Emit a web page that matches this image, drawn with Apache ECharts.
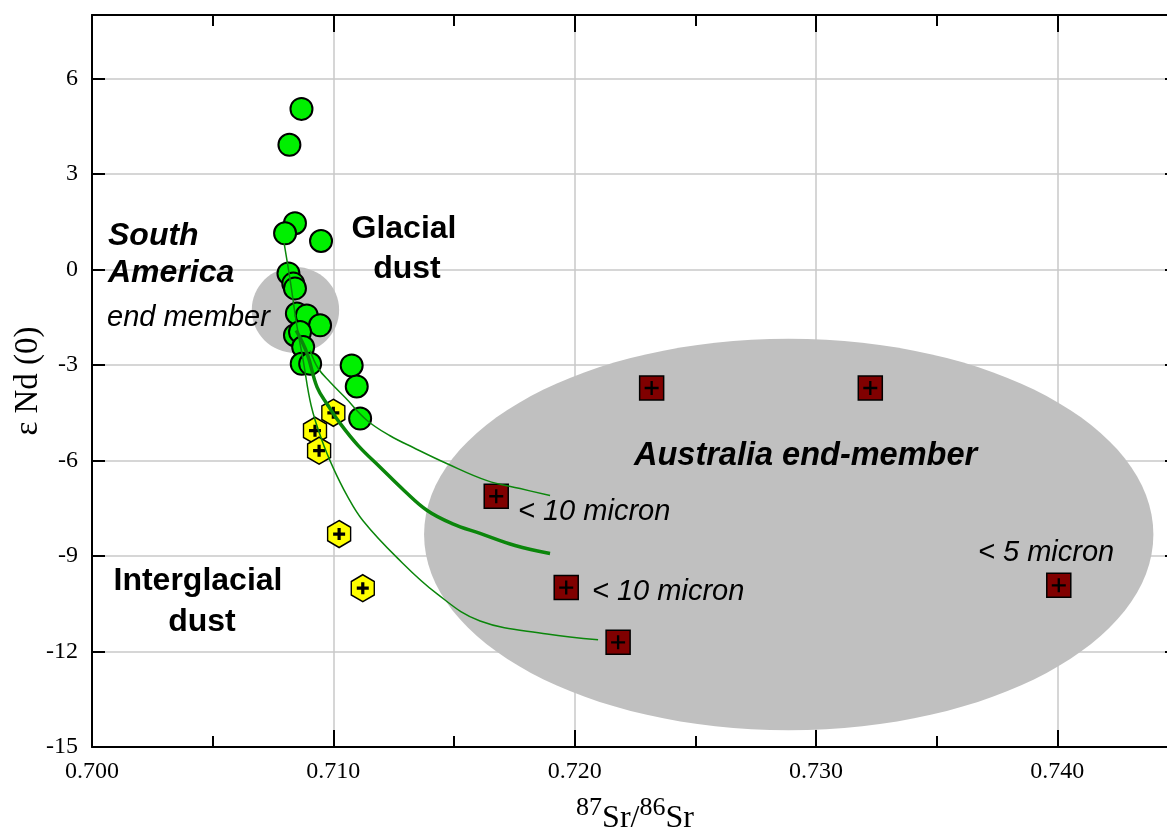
<!DOCTYPE html>
<html>
<head>
<meta charset="utf-8">
<script src="https://cdn.jsdelivr.net/npm/echarts@6/dist/echarts.min.js"></script>
<style>
html,body{margin:0;padding:0;background:#fff;}
#chart{width:1167px;height:833px;}
</style>
</head>
<body>
<div id="chart"></div>
<script>
// ---- Data ----
// Glacial dust (green circles)
const glacialSr = [0.70868, 0.70818, 0.70841, 0.70800, 0.70949, 0.70814, 0.70834, 0.70841, 0.70849, 0.70890, 0.70945, 0.70841, 0.70862, 0.70875, 0.70869, 0.70904, 0.71076, 0.71097, 0.71111];
const glacialNd = [5.05, 3.92, 1.46, 1.14, 0.90, -0.12, -0.44, -0.59, -1.38, -1.44, -1.75, -2.06, -1.96, -2.43, -2.96, -2.96, -3.01, -3.67, -4.68];
// Interglacial dust (yellow hexagons)
const interSr = [0.71000, 0.70924, 0.70941, 0.71024, 0.71122];
const interNd = [-4.50, -5.06, -5.69, -8.31, -10.01];
// Australian samples (dark red squares)
const ausSr = [0.72319, 0.73225, 0.71675, 0.71965, 0.72180, 0.74006];
const ausNd = [-3.72, -3.72, -7.12, -9.99, -11.71, -9.92];
// Mixing curves
const mixASr = [0.70796, 0.70821, 0.70850, 0.70875, 0.70908, 0.70953, 0.70999, 0.71057, 0.71123, 0.71264, 0.71430, 0.71608, 0.71886, 0.72097];
const mixANd = [0.83, -0.33, -1.81, -2.85, -4.27, -5.37, -6.22, -7.10, -7.89, -9.05, -10.19, -11.04, -11.45, -11.63];
const mixBSr = [0.70846, 0.70891, 0.70933, 0.70978, 0.71028, 0.71103, 0.71194, 0.71293, 0.71389, 0.71492, 0.71608, 0.71753, 0.71898];
const mixBNd = [-1.91, -2.63, -3.70, -4.27, -4.83, -5.53, -6.21, -6.94, -7.57, -7.98, -8.29, -8.67, -8.92];
const mixCSr = [0.70904, 0.70937, 0.70987, 0.71049, 0.71140, 0.71235, 0.71331, 0.71472, 0.71637, 0.71774, 0.71898];
const mixCNd = [-2.54, -3.10, -3.54, -4.02, -4.74, -5.22, -5.59, -6.10, -6.63, -6.88, -7.10];
// End-member fields (centre and half-extents)
const fieldCenterSr = [0.70843, 0.72887];
const fieldCenterNd = [-1.27, -8.32];
const fieldHalfSr = [0.00181, 0.01511];
const fieldHalfNd = [1.35, 6.15];
// Axis ticks
const xTickLabels = ['0.700', '0.710', '0.720', '0.730', '0.740'];
const yTickLabels = ['-15', '-12', '-9', '-6', '-3', '0', '3', '6'];

// ---- Build ----
const zip = (a, b) => a.map((v, i) => [v, b[i]]);
const fields = fieldCenterSr.map((v, i) => [v, fieldCenterNd[i], fieldHalfSr[i], fieldHalfNd[i]]);

const SERIF = '"Liberation Serif", "Times New Roman", serif';
const SANS = '"Liberation Sans", Arial, sans-serif';
const PLUS = 'path://M-1,-6H1V-1H6V1H1V6H-1V1H-6V-1H-1Z';
const PLUS_BOLD = 'path://M-1.6,-6H1.6V-1.6H6V1.6H1.6V6H-1.6V1.6H-6V-1.6H-1.6Z';
const HEX = 'path://M0,-10L8.66,-5L8.66,5L0,10L-8.66,5L-8.66,-5Z';

function xFmt(v) {
  const s = v.toFixed(3);
  return xTickLabels.indexOf(s) >= 0 ? s : '';
}
function yFmt(v) {
  const s = String(Math.round(v));
  return (Math.abs(v - Math.round(v)) < 1e-9 && yTickLabels.indexOf(s) >= 0) ? s : '';
}

const axisLine = { show: true, onZero: false, lineStyle: { color: '#000', width: 2 } };
const gridLine = { show: true, lineStyle: { color: '#c8c8c8', width: 1.5 } };

const chart = echarts.init(document.getElementById('chart'), null, { renderer: 'canvas' });

function lineSeries(sr, nd, width) {
  return {
    type: 'line', data: zip(sr, nd), smooth: 0.4, showSymbol: false, symbol: 'none',
    lineStyle: { color: '#0b860b', width: width }, z: 5, silent: true, clip: true
  };
}

const option = {
  animation: false,
  backgroundColor: '#fff',
  grid: { left: 92, top: 15, width: 1086, bottom: 86, containLabel: false, outerBoundsMode: 'none' },
  xAxis: [
    {
      type: 'value', position: 'bottom', min: 0.700, max: 0.745, interval: 0.01,
      axisLine: axisLine,
      axisTick: { show: true, inside: true, length: 17, lineStyle: { color: '#000', width: 2 } },
      minorTick: { show: true, splitNumber: 2, length: 11, lineStyle: { color: '#000', width: 2 } },
      splitLine: gridLine,
      axisLabel: { formatter: xFmt, color: '#000', fontFamily: SERIF, fontSize: 24, margin: 13, showMaxLabel: false },
      name: '{sup|87}{base|Sr/}{sup|86}{base|Sr}',
      nameLocation: 'middle', nameGap: 48,
      nameTextStyle: {
        color: '#000',
        rich: {
          sup: { fontFamily: SERIF, fontSize: 26, color: '#000', verticalAlign: 'top', lineHeight: 20 },
          base: { fontFamily: SERIF, fontSize: 32, color: '#000', verticalAlign: 'bottom', lineHeight: 40 }
        }
      }
    },
    {
      type: 'value', position: 'top', min: 0.700, max: 0.745, interval: 0.01,
      axisLine: axisLine,
      axisTick: { show: true, inside: true, length: 17, lineStyle: { color: '#000', width: 2 } },
      minorTick: { show: true, splitNumber: 2, length: 11, lineStyle: { color: '#000', width: 2 } },
      splitLine: { show: false },
      axisLabel: { show: false }
    }
  ],
  yAxis: [
    {
      type: 'value', position: 'left', min: -15, max: 8, interval: 3,
      axisLine: axisLine,
      axisTick: { show: true, inside: true, length: 13, lineStyle: { color: '#000', width: 2 } },
      splitLine: gridLine,
      axisLabel: { formatter: yFmt, color: '#000', fontFamily: SERIF, fontSize: 24, margin: 14, showMaxLabel: false },
      name: 'ε Nd (0)', nameLocation: 'middle', nameGap: 47, nameRotate: 90, nameMoveOverlap: false,
      nameTextStyle: { color: '#000', fontFamily: SERIF, fontSize: 33 }
    },
    {
      type: 'value', position: 'right', min: -15, max: 8, interval: 3,
      axisLine: axisLine,
      axisTick: { show: true, inside: true, length: 13, lineStyle: { color: '#000', width: 2 } },
      splitLine: { show: false },
      axisLabel: { show: false }
    }
  ],
  series: [
    {
      type: 'custom', data: fields, z: 1, silent: true,
      renderItem: function (params, api) {
        const c = api.coord([api.value(0), api.value(1)]);
        const e = api.coord([api.value(0) + api.value(2), api.value(1) + api.value(3)]);
        return {
          type: 'ellipse',
          shape: { cx: c[0], cy: c[1], rx: Math.abs(e[0] - c[0]), ry: Math.abs(c[1] - e[1]) },
          style: { fill: '#c0c0c0' }
        };
      }
    },
    {
      type: 'scatter', data: zip(glacialSr, glacialNd), symbol: 'circle', symbolSize: 22, z: 3,
      itemStyle: { color: '#00f000', borderColor: '#000', borderWidth: 2, opacity: 1 }
    },
    {
      type: 'scatter', data: zip(interSr, interNd), symbol: HEX, symbolSize: [23, 27], z: 3,
      itemStyle: { color: '#ffff00', borderColor: '#000', borderWidth: 1.5, opacity: 1 }
    },
    {
      type: 'scatter', data: zip(interSr, interNd), symbol: PLUS_BOLD, symbolSize: 12, z: 4,
      itemStyle: { color: '#000', opacity: 1 }
    },
    {
      type: 'scatter', data: zip(ausSr, ausNd), symbol: 'rect', symbolSize: 24, z: 3,
      itemStyle: { color: '#800000', borderColor: '#000', borderWidth: 1.5, opacity: 1 }
    },
    {
      type: 'scatter', data: zip(ausSr, ausNd), symbol: PLUS, symbolSize: 14, z: 4,
      itemStyle: { color: '#000', opacity: 1 }
    },
    lineSeries(mixASr, mixANd, 1.5),
    lineSeries(mixBSr, mixBNd, 3.5),
    lineSeries(mixCSr, mixCNd, 1.5)
  ],
  graphic: [
    { type: 'text', x: 108, y: 236, z: 10, style: { text: 'South', font: 'italic bold 32px ' + SANS, fill: '#000', align: 'left', verticalAlign: 'middle' } },
    { type: 'text', x: 108, y: 273, z: 10, style: { text: 'America', font: 'italic bold 32px ' + SANS, fill: '#000', align: 'left', verticalAlign: 'middle' } },
    { type: 'text', x: 107, y: 318, z: 10, style: { text: 'end member', font: 'italic 29px ' + SANS, fill: '#000', align: 'left', verticalAlign: 'middle' } },
    { type: 'text', x: 404, y: 229, z: 10, style: { text: 'Glacial', font: 'bold 32px ' + SANS, fill: '#000', align: 'center', verticalAlign: 'middle' } },
    { type: 'text', x: 407, y: 269, z: 10, style: { text: 'dust', font: 'bold 32px ' + SANS, fill: '#000', align: 'center', verticalAlign: 'middle' } },
    { type: 'text', x: 198, y: 581, z: 10, style: { text: 'Interglacial', font: 'bold 32px ' + SANS, fill: '#000', align: 'center', verticalAlign: 'middle' } },
    { type: 'text', x: 202, y: 622, z: 10, style: { text: 'dust', font: 'bold 32px ' + SANS, fill: '#000', align: 'center', verticalAlign: 'middle' } },
    { type: 'text', x: 634, y: 456, z: 10, style: { text: 'Australia end-member', font: 'italic bold 32.5px ' + SANS, fill: '#000', align: 'left', verticalAlign: 'middle' } },
    { type: 'text', x: 518, y: 512, z: 10, style: { text: '< 10 micron', font: 'italic 29px ' + SANS, fill: '#000', align: 'left', verticalAlign: 'middle' } },
    { type: 'text', x: 592, y: 592, z: 10, style: { text: '< 10 micron', font: 'italic 29px ' + SANS, fill: '#000', align: 'left', verticalAlign: 'middle' } },
    { type: 'text', x: 978, y: 553, z: 10, style: { text: '< 5 micron', font: 'italic 29px ' + SANS, fill: '#000', align: 'left', verticalAlign: 'middle' } }
  ]
};
chart.setOption(option);
</script>
</body>
</html>
